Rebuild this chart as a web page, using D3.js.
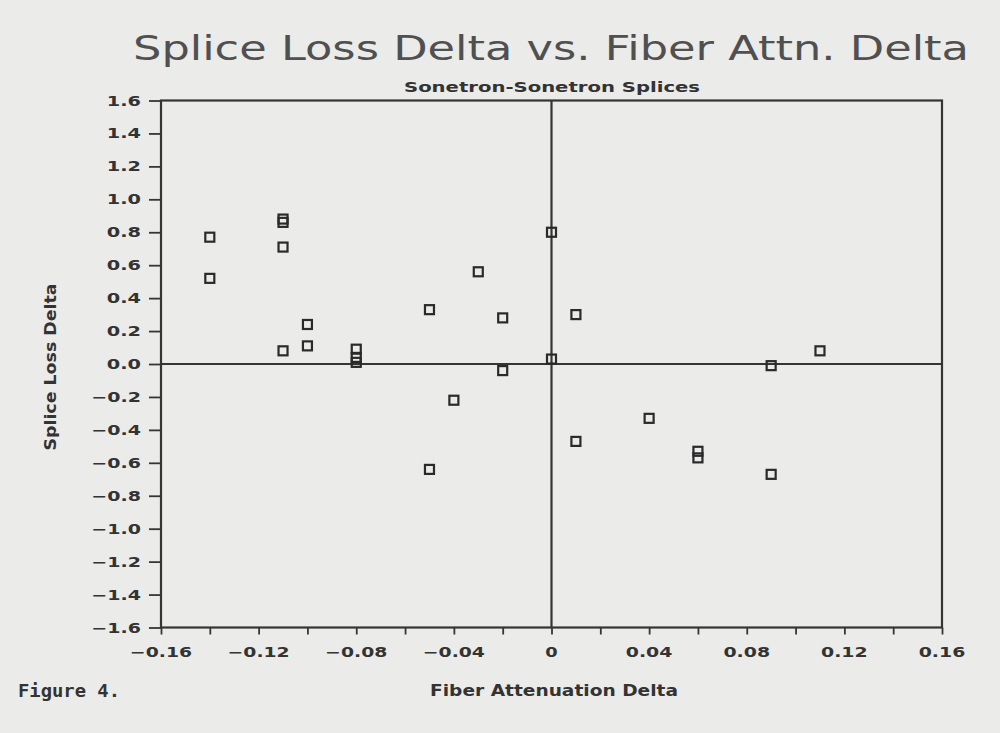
<!DOCTYPE html>
<html>
<head>
<meta charset="utf-8">
<script src="https://cdn.jsdelivr.net/npm/d3@7"></script>
<style>
  html, body { margin: 0; padding: 0; background: #ebebe9; }
  svg { display: block; }
</style>
</head>
<body>
<div id="chart"></div>
<script>
// ---- data ----
const fiberAttnDelta = [-0.14, -0.14, -0.11, -0.11, -0.11, -0.11, -0.10, -0.10, -0.08, -0.08, -0.08,
  -0.05, -0.05, -0.04, -0.03, -0.02, -0.02, 0.00, 0.00, 0.01, 0.01, 0.04, 0.06, 0.06, 0.09, 0.09, 0.11];
const spliceLossDelta = [0.77, 0.52, 0.88, 0.86, 0.71, 0.08, 0.24, 0.11, 0.09, 0.04, 0.01,
  0.33, -0.64, -0.22, 0.56, 0.28, -0.04, 0.80, 0.03, 0.30, -0.47, -0.33, -0.53, -0.57, -0.01, -0.67, 0.08];
const xTickValues = [-0.16, -0.12, -0.08, -0.04, 0, 0.04, 0.08, 0.12, 0.16];
const xTickLabels = ["\u22120.16", "\u22120.12", "\u22120.08", "\u22120.04", "0", "0.04", "0.08", "0.12", "0.16"];
const xMinorTicks = d3.range(-16, 17, 2).map(d => d / 100);
const yTickValues = [1.6, 1.4, 1.2, 1.0, 0.8, 0.6, 0.4, 0.2, 0.0, -0.2, -0.4, -0.6, -0.8, -1.0, -1.2, -1.4, -1.6];
const yTickLabels = ["1.6", "1.4", "1.2", "1.0", "0.8", "0.6", "0.4", "0.2", "0.0", "\u22120.2", "\u22120.4",
  "\u22120.6", "\u22120.8", "\u22121.0", "\u22121.2", "\u22121.4", "\u22121.6"];
const titleText = "Splice Loss Delta vs. Fiber Attn. Delta";
const subtitleText = "Sonetron-Sonetron Splices";
const xLabelText = "Fiber Attenuation Delta";
const yLabelText = "Splice Loss Delta";
const figureText = "Figure 4.";

// ---- layout ----
const W = 1000, H = 733;
const mLeft = 161, mRight = 942, mTop = 100.5, mBottom = 627.5;
const ink = "#353535";

const svg = d3.select("#chart").append("svg").attr("width", W).attr("height", H);
svg.append("rect").attr("width", W).attr("height", H).attr("fill", "#ebebe9");

const x = d3.scaleLinear().domain([-0.16, 0.16]).range([mLeft, mRight]);
const y = d3.scaleLinear().domain([-1.6, 1.6]).range([mBottom, mTop]);

// frame
svg.append("rect").attr("x", mLeft).attr("y", mTop).attr("width", mRight - mLeft).attr("height", mBottom - mTop)
  .attr("fill", "none").attr("stroke", ink).attr("stroke-width", 2.2);

// zero lines
svg.append("line").attr("x1", x(0)).attr("x2", x(0)).attr("y1", mTop).attr("y2", mBottom)
  .attr("stroke", ink).attr("stroke-width", 2.2);
svg.append("line").attr("x1", mLeft).attr("x2", mRight).attr("y1", y(0)).attr("y2", y(0))
  .attr("stroke", ink).attr("stroke-width", 2.2);

// x axis ticks
const xAxis = d3.axisBottom(x).tickValues(xMinorTicks).tickSize(7).tickFormat("");
const gx = svg.append("g").attr("transform", `translate(0,${mBottom})`).call(xAxis);
gx.select(".domain").remove();
gx.selectAll(".tick line").attr("stroke", ink).attr("stroke-width", 1.8);

const fontStack = "'DejaVu Sans', 'Liberation Sans', sans-serif";
const charW = t => t.length * 12.4 + (t.includes("\u2212") ? 3 : 0) - (t.includes(".") ? 3 : 0);

svg.append("g").selectAll("text").data(xTickValues).join("text")
  .attr("x", d => x(d)).attr("y", 657)
  .attr("text-anchor", "middle")
  .attr("font-family", fontStack).attr("font-size", 14).attr("font-weight", "bold")
  .attr("fill", "#333")
  .attr("textLength", (d, i) => charW(xTickLabels[i]))
  .attr("lengthAdjust", "spacingAndGlyphs")
  .text((d, i) => xTickLabels[i]);

// y axis ticks
const yAxis = d3.axisLeft(y).tickValues(yTickValues).tickSize(12).tickFormat("");
const gy = svg.append("g").attr("transform", `translate(${mLeft},0)`).call(yAxis);
gy.select(".domain").remove();
gy.selectAll(".tick line").attr("stroke", ink).attr("stroke-width", 1.8);

svg.append("g").selectAll("text").data(yTickValues).join("text")
  .attr("x", 141).attr("y", d => y(d) + 5)
  .attr("text-anchor", "end")
  .attr("font-family", fontStack).attr("font-size", 14).attr("font-weight", "bold")
  .attr("fill", "#333")
  .attr("textLength", (d, i) => charW(yTickLabels[i]))
  .attr("lengthAdjust", "spacingAndGlyphs")
  .text((d, i) => yTickLabels[i]);

// points
const pts = fiberAttnDelta.map((v, i) => [v, spliceLossDelta[i]]);
const s = 9;
svg.append("g").selectAll("rect").data(pts).join("rect")
  .attr("x", d => x(d[0]) - s / 2).attr("y", d => y(d[1]) - s / 2)
  .attr("width", s).attr("height", s)
  .attr("fill", "none").attr("stroke", "#2a2a2a").attr("stroke-width", 2.2);

// titles
svg.append("text").attr("x", 551).attr("y", 60).attr("text-anchor", "middle")
  .attr("font-family", fontStack).attr("font-size", 34).attr("font-weight", "normal")
  .attr("fill", "#505050").attr("textLength", 836).attr("lengthAdjust", "spacingAndGlyphs")
  .text(titleText);
svg.append("text").attr("x", 552).attr("y", 92).attr("text-anchor", "middle")
  .attr("font-family", fontStack).attr("font-size", 14).attr("font-weight", "bold")
  .attr("fill", "#333").attr("textLength", 296).attr("lengthAdjust", "spacingAndGlyphs")
  .text(subtitleText);

// axis labels
svg.append("text").attr("x", 554).attr("y", 696).attr("text-anchor", "middle")
  .attr("font-family", fontStack).attr("font-size", 15).attr("font-weight", "bold")
  .attr("fill", "#333").attr("textLength", 248).attr("lengthAdjust", "spacingAndGlyphs")
  .text(xLabelText);
svg.append("text").attr("transform", "translate(56,367) rotate(-90)").attr("text-anchor", "middle")
  .attr("font-family", fontStack).attr("font-size", 15).attr("font-weight", "bold")
  .attr("fill", "#333").attr("textLength", 167).attr("lengthAdjust", "spacingAndGlyphs")
  .text(yLabelText);

svg.append("text").attr("x", 18).attr("y", 697)
  .attr("font-family", "'DejaVu Sans Mono', 'Liberation Mono', monospace").attr("font-size", 17).attr("font-weight", "bold")
  .attr("fill", "#333").attr("textLength", 102).attr("lengthAdjust", "spacingAndGlyphs")
  .text(figureText);
</script>
</body>
</html>
